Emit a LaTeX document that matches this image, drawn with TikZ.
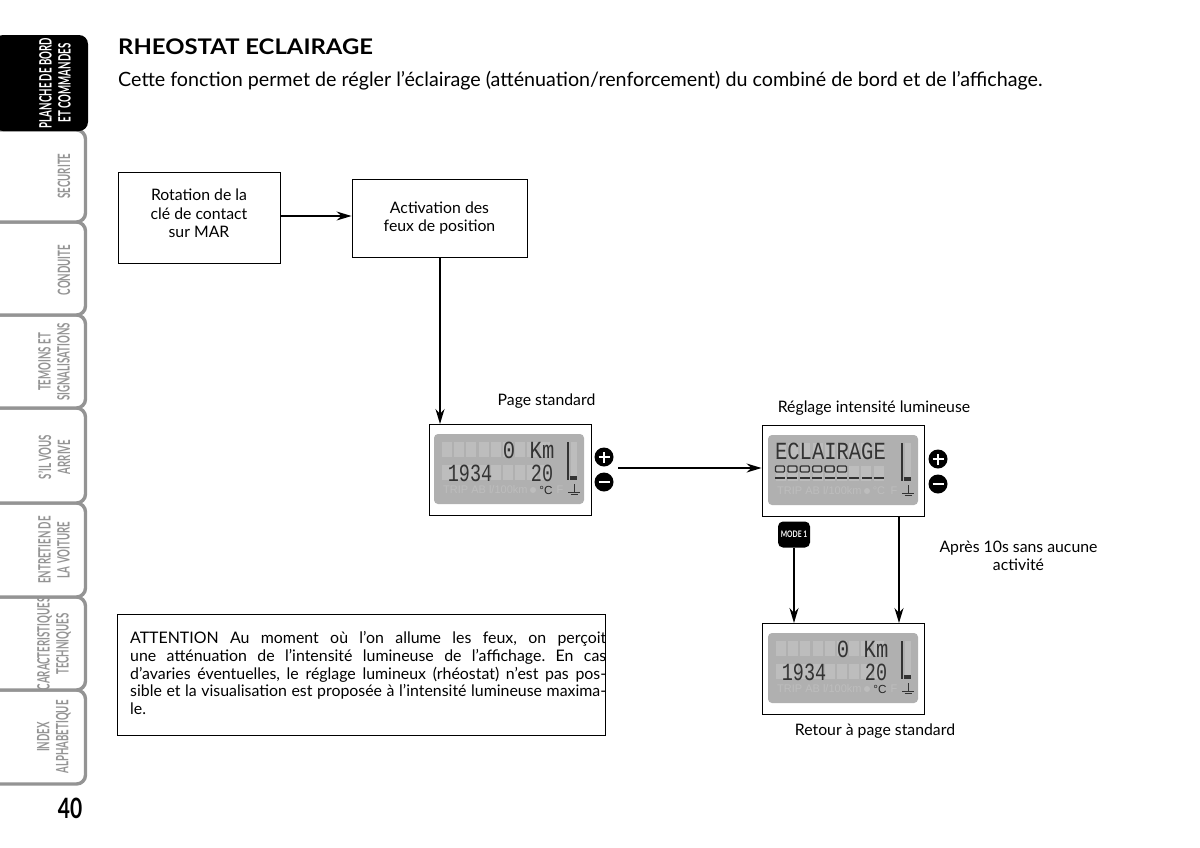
\documentclass[tikz,border=0pt]{standalone}
\usepackage{fontspec}
\setmainfont{Lato}
\newfontfamily\lcdfont{Liberation Mono}
\newfontfamily\infofont{Liberation Sans}
\usetikzlibrary{arrows.meta}

\definecolor{tabgray}{gray}{0.58}
\definecolor{panelgray}{gray}{0.69}
\definecolor{ghostgray}{gray}{0.74}

\tikzset{
  flowbox/.style={draw,line width=0.9pt,fill=white,inner sep=0pt,align=center,font=\fontsize{15.8}{18.5}\selectfont},
  flowarrow/.style={line width=1.6pt,-{Stealth[length=15pt,width=9pt]}},
  caption/.style={inner sep=0pt,align=center,font=\fontsize{15.8}{18.5}\selectfont},
  lcdchar/.style={inner sep=0pt,text=black!80,font=\lcdfont\fontsize{20.5}{20.5}\selectfont,yscale=1.2},
  lcdghost/.style={inner sep=0pt,text=ghostgray,font=\infofont\fontsize{11}{12}\selectfont},
  signdot/.style={circle,fill=black,minimum size=19pt,inner sep=0pt},
  tabtext/.style={inner sep=0pt,align=center,rotate=90,xscale=0.57,text=tabgray,font=\bfseries\fontsize{17}{19}\selectfont}
}

% grey display, origin at its top left corner
\newcommand{\lcdpanel}{
  \fill[panelgray,rounded corners=4pt] (0,0) rectangle (150,70);
  \foreach \row in {8,31}
    \foreach \cell in {0,...,8}
      \fill[ghostgray] (8+\cell*12.2,\row) rectangle (18+\cell*12.2,\row+15);
  \fill[ghostgray] (137,8) rectangle (143,42);
  \draw[line width=2pt,black!80] (133.5,8) -- (133.5,46);
  \fill[black!80] (136,42) rectangle (143,46);
  \node[lcdghost,anchor=west] (\lcdname trip) at (9,56) {TRIP AB l/100km};
  \fill[ghostgray] (99,56) circle (3);
  \node[lcdghost] (\lcdname fahr) at (126,56) {F};
  \draw[line width=0.8pt,black!80] (134,58) -- (146,58) (140,58) -- (140,50) (136.5,60.5) -- (143.5,60.5);
}
\newcommand{\lcdreading}{
  \node[lcdchar] (\lcdname zero) at (75,16) {0};
  \node[lcdchar] (\lcdname km) at (108,16) {Km};
  \node[lcdchar,xscale=0.9] (\lcdname time) at (36,39) {1934};
  \node[lcdchar,xscale=0.9] (\lcdname temp) at (108,39) {20};
  \node[inner sep=0pt,text=black!85,font=\infofont\fontsize{11.7}{12}\selectfont] (\lcdname unit) at (112,56) {°C};
}

\begin{document}
\begin{tikzpicture}[x=1pt,y=-1pt]
\useasboundingbox (0,0) rectangle (1200,847);

% thumb tabs
\foreach \top/\bottom in {690/784,597/690,503/597,408/503,315/408,222/315,130/222}
  \draw[tabgray,line width=3.4pt,fill=white,rounded corners=9pt] (-6,\top) -- (85.5,\top) -- (85.5,\bottom) -- (-6,\bottom);
\fill[black,rounded corners=9pt] (-6,35) -- (88,35) -- (88,131) -- (-6,131) -- cycle;
\node[tabtext,text=white] (tabplanche) at (55,83) {PLANCHE DE BORD\\ET COMMANDES};
\node[tabtext] (tabsecurite) at (64,176) {SECURITE};
\node[tabtext] (tabconduite) at (64,270) {CONDUITE};
\node[tabtext] (tabtemoins) at (54,362) {TEMOINS ET\\SIGNALISATIONS};
\node[tabtext] (tabarrive) at (54,457) {S'IL VOUS\\ARRIVE};
\node[tabtext] (tabentretien) at (54,550) {ENTRETIEN DE\\LA VOITURE};
\node[tabtext] (tabcaract) at (54,644) {CARACTERISTIQUES\\TECHNIQUES};
\node[tabtext] (tabindex) at (54,737) {INDEX\\ALPHABETIQUE};
\node[inner sep=0pt,xscale=0.75,font=\bfseries\fontsize{28}{30}\selectfont] (pagenum) at (70,808) {40};

% heading
\node[inner sep=0pt,anchor=west,xscale=1.11,font=\bfseries\fontsize{21.5}{24}\selectfont] (title) at (118,47) {RHEOSTAT ECLAIRAGE};
\node[inner sep=0pt,anchor=west,font=\fontsize{19.7}{24}\selectfont] (intro) at (118,81) {Cette fonction permet de régler l’éclairage (atténuation/renforcement) du combiné de bord et de l’affichage.};

% flow
\node[flowbox,minimum width=162pt,minimum height=91pt,label={[caption,yshift=4pt]center:{Rotation de la\\clé de contact\\sur MAR}}] (rotation) at (199,217.5) {};
\node[flowbox,minimum width=175pt,minimum height=78pt] (feux) at (439.5,218) {Activation des\\feux de position};
\node[flowbox,minimum width=162pt,minimum height=91pt] (lcdstd) at (510,469.5) {};
\node[flowbox,minimum width=162pt,minimum height=91pt] (lcdreg) at (843,470.5) {};
\node[flowbox,minimum width=162pt,minimum height=91pt] (lcdret) at (843,668.5) {};

\begin{scope}[shift={(434,434)}]
\def\lcdname{std}
\lcdpanel
\lcdreading
\end{scope}

\begin{scope}[shift={(768,435)}]
\def\lcdname{reg}
\lcdpanel
\node[lcdghost] (regdeg) at (111,56) {°C};
\node[lcdchar] (regword) at (62.5,16) {ECLAIRAGE};
\foreach \cell in {0,...,5}
  \draw[line width=1.3pt,black!80,rounded corners=1pt] (7.5+\cell*12.4,31) rectangle (16.5+\cell*12.4,37);
\foreach \cell in {0,...,8}
  \draw[line width=1.3pt,black!80] (7+\cell*12.4,43) -- (17+\cell*12.4,43);
\end{scope}

\begin{scope}[shift={(768,633)}]
\def\lcdname{ret}
\lcdpanel
\lcdreading
\end{scope}

% plus and minus keys
\node[signdot] (plusstd) at (604,457) {};
\node[signdot] (minusstd) at (604,482) {};
\node[signdot] (plusreg) at (938,459) {};
\node[signdot] (minusreg) at (938,484) {};
\foreach \key in {plusstd,minusstd,plusreg,minusreg}
  \draw[white,line width=2.6pt] ([xshift=-5.5pt]\key.center) -- ([xshift=5.5pt]\key.center);
\foreach \key in {plusstd,plusreg}
  \draw[white,line width=2.6pt] ([yshift=-5.5pt]\key.center) -- ([yshift=5.5pt]\key.center);

\node[fill=black,text=white,rounded corners=5pt,minimum width=32pt,minimum height=26pt,inner sep=0pt,font=\bfseries\fontsize{9}{10}\selectfont] (mode) at (794,534.5) {\scalebox{0.75}[1]{MODE 1}};

\coordinate (stdout) at (618,468);
\coordinate (feuxdown) at (440,257);
\coordinate (stdin) at (440,424);
\coordinate (rightdown) at (899,516);
\coordinate (rightin) at (899,623);
\coordinate (modein) at (794,623);

\draw[flowarrow] (rotation.east |- 0,216) -- (feux.west |- 0,216);
\draw[flowarrow] (feuxdown) -- (stdin);
\draw[flowarrow] (stdout) -- (lcdreg.west |- stdout);
\draw[flowarrow] (mode.south) -- (modein);
\draw[flowarrow] (rightdown) -- (rightin);

% captions
\node[caption] (capstd) at (546.5,401) {Page standard};
\node[caption] (capreg) at (874,408) {Réglage intensité lumineuse};
\node[caption] (capret) at (875,731) {Retour à page standard};
\node[caption] (capidle) at (1018.5,556) {Après 10s sans aucune\\activité};

% warning
\node[draw,line width=0.9pt,minimum width=488pt,minimum height=121pt,inner sep=0pt] (warnbox) at (361.5,674.5) {};
\node[inner sep=0pt,anchor=north west,text width=476pt,align=justify,font=\frenchspacing\fontsize{15.9}{17.7}\selectfont] (warntext) at (130,631.5) {ATTENTION Au moment où l’on allume les feux, on perçoit\linebreak une atténuation de l’intensité lumineuse de l’affichage. En cas\linebreak d’avaries éventuelles, le réglage lumineux (rhéostat) n’est pas pos-\linebreak sible et la visualisation est proposée à l’intensité lumineuse maxima-\linebreak le.};
\end{tikzpicture}
\end{document}
